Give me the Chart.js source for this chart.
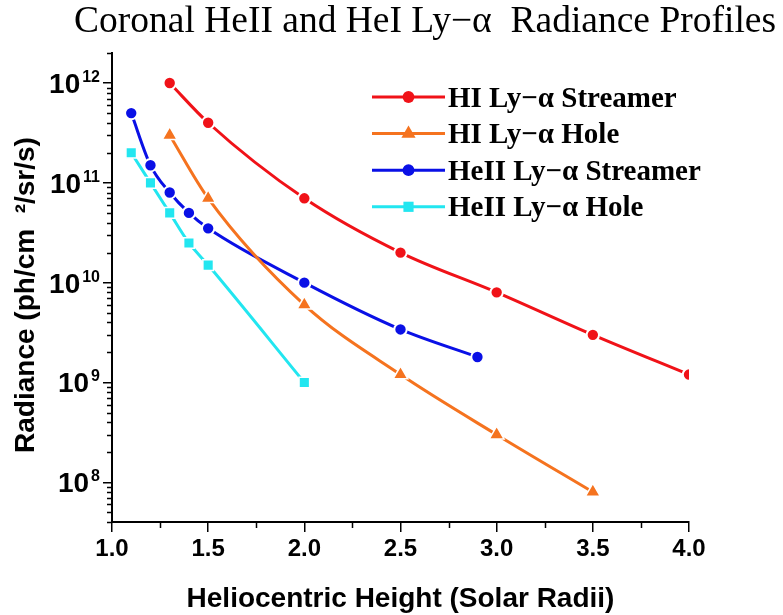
<!DOCTYPE html>
<html><head><meta charset="utf-8">
<script src="https://cdn.jsdelivr.net/npm/chart.js@4.4.0/dist/chart.umd.min.js"></script>
<style>html,body{margin:0;padding:0;background:#fff;overflow:hidden}#wrap{width:783px;height:615px}</style>
</head><body><div id="wrap"><canvas id="c" width="783" height="615"></canvas></div>
<script>
const titleText = 'Coronal HeII and HeI Ly\u2212\u03b1  Radiance Profiles';
const xAxisTitle = 'Heliocentric Height (Solar Radii)';
const yAxisTitle = 'Radiance (ph/cm  \u00b2/sr/s)';
const seriesNames = ['HI Ly\u2212\u03b1 Streamer', 'HI Ly\u2212\u03b1 Hole', 'HeII Ly\u2212\u03b1 Streamer', 'HeII Ly\u2212\u03b1 Hole'];

const hiStreamerX = [1.3, 1.5, 2.0, 2.5, 3.0, 3.5, 4.0];
const hiStreamerY = [1e12, 4e11, 7e10, 2e10, 8e9, 3e9, 1.2e9];
const hiHoleX = [1.3, 1.5, 2.0, 2.5, 3.0, 3.5];
const hiHoleY = [3e11, 7e10, 6e9, 1.2e9, 3e8, 8e7];
const heiiStreamerX = [1.1, 1.2, 1.3, 1.4, 1.5, 2.0, 2.5, 2.9];
const heiiStreamerY = [5e11, 1.5e11, 8e10, 5e10, 3.5e10, 1e10, 3.4e9, 1.8e9];
const heiiHoleX = [1.1, 1.2, 1.3, 1.4, 1.5, 2.0];
const heiiHoleY = [2e11, 1e11, 5e10, 2.5e10, 1.5e10, 1e9];

const xTicks = [1.0, 1.5, 2.0, 2.5, 3.0, 3.5, 4.0];
const xMinorTicks = [1.25, 1.75, 2.25, 2.75, 3.25, 3.75];
const yExponents = [8, 9, 10, 11, 12];
const xRange = [1.0, 4.0];
const yRange = [4e7, 2e12];

const SANS = '"Liberation Sans", Arial, sans-serif';
const SERIF = '"Liberation Serif", "Times New Roman", serif';

function pts(xs, ys) { return xs.map((x, i) => ({ x: x, y: ys[i] })); }

const styles = [
  { color: '#f01218', pointStyle: 'circle', r: 6.2, bw: 2 },
  { color: '#f5731f', pointStyle: 'triangle', r: 8.5, bw: 1.5 },
  { color: '#0a10e6', pointStyle: 'circle', r: 6.2, bw: 2 },
  { color: '#22e6f0', pointStyle: 'rect', r: 7.5, bw: 1.5 }
];
const seriesData = [pts(hiStreamerX, hiStreamerY), pts(hiHoleX, hiHoleY), pts(heiiStreamerX, heiiStreamerY), pts(heiiHoleX, heiiHoleY)];

const datasets = seriesData.map((d, i) => ({
  label: seriesNames[i],
  data: d,
  borderColor: styles[i].color,
  backgroundColor: styles[i].color,
  borderWidth: 3,
  cubicInterpolationMode: 'monotone',
  pointStyle: styles[i].pointStyle,
  pointRadius: styles[i].r,
  pointBackgroundColor: styles[i].color,
  pointBorderColor: '#ffffff',
  pointBorderWidth: styles[i].bw,
  clip: { left: 20, top: 20, right: 0, bottom: 20 }
}));

const deco = {
  id: 'deco',
  afterDraw(chart) {
    const ctx = chart.ctx, xs = chart.scales.x, ys = chart.scales.y, a = chart.chartArea;
    ctx.save();
    // minor ticks
    ctx.strokeStyle = '#000'; ctx.lineWidth = 1.5;
    ctx.beginPath();
    xMinorTicks.forEach(v => { const p = Math.round(xs.getPixelForValue(v)) + 0.5; ctx.moveTo(p, a.bottom); ctx.lineTo(p, a.bottom + 6); });
    const e0 = Math.floor(Math.log10(yRange[0])), e1 = Math.ceil(Math.log10(yRange[1]));
    for (let e = e0; e <= e1; e++) {
      for (let m = 2; m <= 9; m++) {
        const v = m * Math.pow(10, e);
        if (v < yRange[0] * 0.999 || v > yRange[1] * 1.001) continue;
        const p = Math.round(ys.getPixelForValue(v)) + 0.5;
        ctx.moveTo(a.left - 5, p); ctx.lineTo(a.left, p);
      }
    }
    ctx.stroke();
    // y tick labels with superscripts
    ctx.fillStyle = '#000';
    ctx.textBaseline = 'alphabetic';
    ctx.textAlign = 'right';
    yExponents.forEach(e => {
      const p = ys.getPixelForValue(Math.pow(10, e));
      ctx.font = 'bold 16px ' + SANS;
      const sup = String(e);
      const w = ctx.measureText(sup).width;
      ctx.fillText(sup, 100, p - 1);
      ctx.font = 'bold 28px ' + SANS;
      ctx.fillText('10', 100 - w - 2, p + 10);
    });
    // title
    ctx.textAlign = 'left';
    ctx.font = '37.5px ' + SERIF;
    ctx.fillText(titleText, 74, 32);
    // x axis title
    ctx.textAlign = 'center';
    ctx.font = 'bold 28px ' + SANS;
    ctx.fillText(xAxisTitle, (a.left + a.right) / 2, 607);
    // y axis title
    ctx.save();
    ctx.translate(24, 295);
    ctx.rotate(-Math.PI / 2);
    ctx.font = 'bold 28px ' + SANS;
    ctx.fillText(yAxisTitle, 0, 10);
    ctx.restore();
    // legend
    chart.data.datasets.forEach((ds, i) => {
      const y = 97 + i * 36.6;
      ctx.strokeStyle = ds.borderColor; ctx.lineWidth = 3;
      ctx.beginPath(); ctx.moveTo(372, y); ctx.lineTo(445, y); ctx.stroke();
      ctx.fillStyle = ds.backgroundColor;
      Chart.helpers.drawPoint(ctx, { pointStyle: ds.pointStyle, radius: ds.pointRadius - 0.3, rotation: 0, borderWidth: 0 }, 408.5, y);
      ctx.fillStyle = '#000';
      ctx.textAlign = 'left';
      ctx.font = 'bold 29px ' + SERIF;
      ctx.fillText(ds.label, 448, y + 9.5);
    });
    ctx.restore();
  }
};

new Chart(document.getElementById('c'), {
  type: 'line',
  data: { datasets: datasets },
  plugins: [deco],
  options: {
    responsive: false,
    animation: false,
    devicePixelRatio: 1,
    events: [],
    layout: { padding: { top: 53, right: 94, bottom: 0, left: 0 } },
    plugins: { legend: { display: false }, title: { display: false }, tooltip: { enabled: false } },
    scales: {
      x: {
        type: 'linear', min: xRange[0], max: xRange[1],
        afterBuildTicks: s => { s.ticks = xTicks.map(v => ({ value: v })); },
        afterFit: s => { s.height = 93; },
        ticks: { color: '#000', font: { family: SANS, size: 24, weight: 'bold' }, padding: 3, maxRotation: 0, autoSkip: false,
          callback: v => Number(v).toFixed(1) },
        grid: { drawOnChartArea: false, drawTicks: true, tickLength: 10, color: '#000', lineWidth: 1.5 },
        border: { display: true, color: '#000', width: 2 }
      },
      y: {
        type: 'logarithmic', min: yRange[0], max: yRange[1],
        afterBuildTicks: s => { s.ticks = yExponents.map(e => ({ value: Math.pow(10, e) })); },
        afterFit: s => { s.width = 112; },
        ticks: { display: false },
        grid: { drawOnChartArea: false, drawTicks: true, tickLength: 9, color: '#000', lineWidth: 1.5 },
        border: { display: true, color: '#000', width: 2 }
      }
    }
  }
});
</script></body></html>
